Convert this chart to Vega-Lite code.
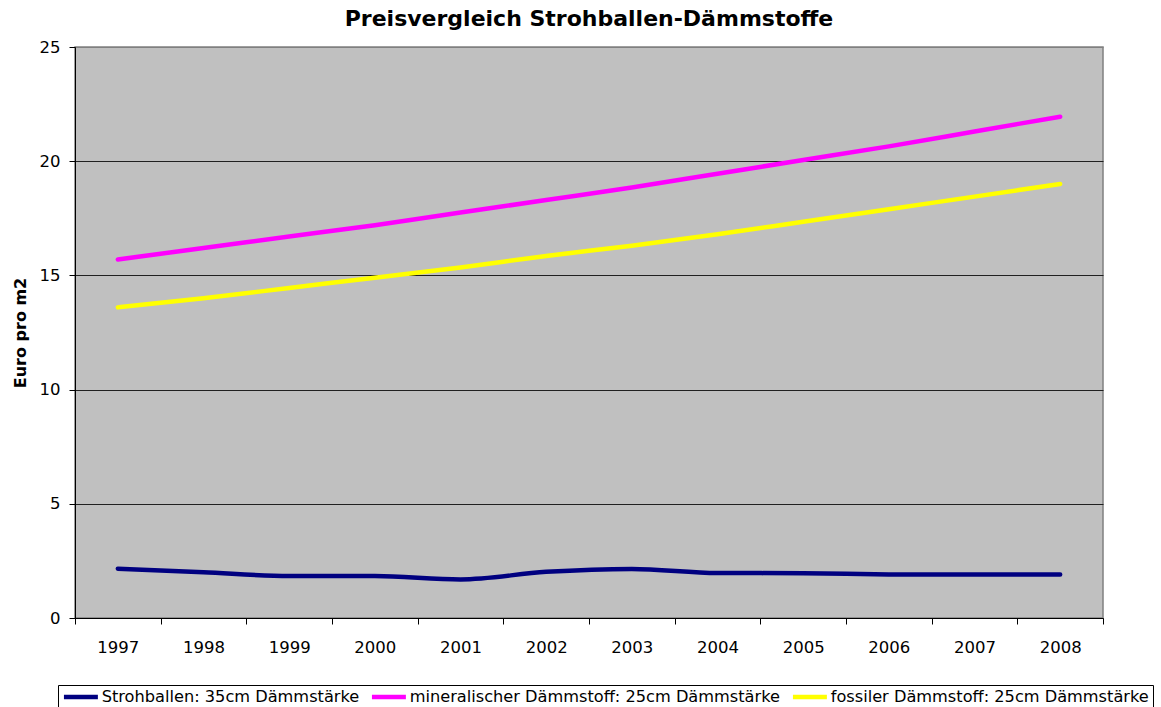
{
  "$schema": "https://vega.github.io/schema/vega-lite/v6.json",
  "autosize": "none",
  "width": 1028,
  "height": 571,
  "padding": {"left": 75, "top": 47, "right": 58, "bottom": 89},
  "background": "white",
  "config": {
    "font": "DejaVu Sans",
    "view": {"fill": "#C0C0C0", "stroke": "#808080", "strokeWidth": 1.5}
  },
  "title": {
    "text": "Preisvergleich Strohballen-Dämmstoffe",
    "font": "DejaVu Sans",
    "fontSize": 22,
    "fontWeight": "bold",
    "color": "black",
    "anchor": "middle",
    "baseline": "alphabetic",
    "offset": 19,
    "dy": 28
  },
  "data": {
    "values": [
      {"year": "1997", "series": "Strohballen: 35cm Dämmstärke", "value": 2.16},
      {"year": "1998", "series": "Strohballen: 35cm Dämmstärke", "value": 2.0},
      {"year": "1999", "series": "Strohballen: 35cm Dämmstärke", "value": 1.84},
      {"year": "2000", "series": "Strohballen: 35cm Dämmstärke", "value": 1.84},
      {"year": "2001", "series": "Strohballen: 35cm Dämmstärke", "value": 1.69},
      {"year": "2002", "series": "Strohballen: 35cm Dämmstärke", "value": 2.02},
      {"year": "2003", "series": "Strohballen: 35cm Dämmstärke", "value": 2.15},
      {"year": "2004", "series": "Strohballen: 35cm Dämmstärke", "value": 1.97},
      {"year": "2005", "series": "Strohballen: 35cm Dämmstärke", "value": 1.96},
      {"year": "2006", "series": "Strohballen: 35cm Dämmstärke", "value": 1.91},
      {"year": "2007", "series": "Strohballen: 35cm Dämmstärke", "value": 1.9},
      {"year": "2008", "series": "Strohballen: 35cm Dämmstärke", "value": 1.9},
      {"year": "1997", "series": "mineralischer Dämmstoff: 25cm Dämmstärke", "value": 15.7},
      {"year": "1998", "series": "mineralischer Dämmstoff: 25cm Dämmstärke", "value": 16.2},
      {"year": "1999", "series": "mineralischer Dämmstoff: 25cm Dämmstärke", "value": 16.7},
      {"year": "2000", "series": "mineralischer Dämmstoff: 25cm Dämmstärke", "value": 17.2},
      {"year": "2001", "series": "mineralischer Dämmstoff: 25cm Dämmstärke", "value": 17.75},
      {"year": "2002", "series": "mineralischer Dämmstoff: 25cm Dämmstärke", "value": 18.3},
      {"year": "2003", "series": "mineralischer Dämmstoff: 25cm Dämmstärke", "value": 18.85},
      {"year": "2004", "series": "mineralischer Dämmstoff: 25cm Dämmstärke", "value": 19.45},
      {"year": "2005", "series": "mineralischer Dämmstoff: 25cm Dämmstärke", "value": 20.05},
      {"year": "2006", "series": "mineralischer Dämmstoff: 25cm Dämmstärke", "value": 20.65},
      {"year": "2007", "series": "mineralischer Dämmstoff: 25cm Dämmstärke", "value": 21.3},
      {"year": "2008", "series": "mineralischer Dämmstoff: 25cm Dämmstärke", "value": 21.95},
      {"year": "1997", "series": "fossiler Dämmstoff: 25cm Dämmstärke", "value": 13.6},
      {"year": "1998", "series": "fossiler Dämmstoff: 25cm Dämmstärke", "value": 14.0},
      {"year": "1999", "series": "fossiler Dämmstoff: 25cm Dämmstärke", "value": 14.45},
      {"year": "2000", "series": "fossiler Dämmstoff: 25cm Dämmstärke", "value": 14.9},
      {"year": "2001", "series": "fossiler Dämmstoff: 25cm Dämmstärke", "value": 15.35},
      {"year": "2002", "series": "fossiler Dämmstoff: 25cm Dämmstärke", "value": 15.85},
      {"year": "2003", "series": "fossiler Dämmstoff: 25cm Dämmstärke", "value": 16.3},
      {"year": "2004", "series": "fossiler Dämmstoff: 25cm Dämmstärke", "value": 16.8},
      {"year": "2005", "series": "fossiler Dämmstoff: 25cm Dämmstärke", "value": 17.35},
      {"year": "2006", "series": "fossiler Dämmstoff: 25cm Dämmstärke", "value": 17.9},
      {"year": "2007", "series": "fossiler Dämmstoff: 25cm Dämmstärke", "value": 18.45},
      {"year": "2008", "series": "fossiler Dämmstoff: 25cm Dämmstärke", "value": 19.0}
    ]
  },
  "mark": {"type": "line", "strokeWidth": 4.5, "strokeCap": "round", "strokeJoin": "round", "interpolate": "monotone"},
  "encoding": {
    "x": {
      "field": "year",
      "type": "ordinal",
      "scale": {"type": "band", "paddingInner": 0, "paddingOuter": 0},
      "axis": {
        "title": null,
        "labelAngle": 0,
        "labelFontSize": 16.5,
        "labelColor": "black",
        "labelPadding": 15,
        "tickBand": "extent",
        "tickSize": 6,
        "tickColor": "black",
        "domainColor": "black",
        "grid": false
      }
    },
    "y": {
      "field": "value",
      "type": "quantitative",
      "scale": {"domain": [0, 25], "nice": false, "zero": true},
      "axis": {
        "title": "Euro pro m2",
        "titleFontSize": 16,
        "titleFontWeight": "bold",
        "titleColor": "black",
        "titlePadding": 11,
        "values": [0, 5, 10, 15, 20, 25],
        "labelFontSize": 16.5,
        "labelColor": "black",
        "labelPadding": 9,
        "tickSize": 6,
        "tickColor": "black",
        "domainColor": "black",
        "grid": true,
        "gridColor": {"condition": {"test": "datum.value == 25", "value": "#808080"}, "value": "#202020"},
        "gridWidth": 1.2
      }
    },
    "color": {
      "field": "series",
      "type": "nominal",
      "scale": {
        "domain": ["Strohballen: 35cm Dämmstärke", "mineralischer Dämmstoff: 25cm Dämmstärke", "fossiler Dämmstoff: 25cm Dämmstärke"],
        "range": ["#000080", "#FF00FF", "#FFFF00"]
      },
      "legend": {
        "title": null,
        "orient": "none",
        "legendX": -17,
        "legendY": 638,
        "direction": "horizontal",
        "columns": 3,
        "strokeColor": "black",
        "padding": 3.5,
        "columnPadding": 3,
        "symbolType": "M -1 0 L 5 0",
        "symbolSize": 128,
        "symbolStrokeWidth": 4.5,
        "labelOffset": 24,
        "labelFontSize": 16.2,
        "labelColor": "black",
        "labelLimit": 500
      }
    }
  }
}
